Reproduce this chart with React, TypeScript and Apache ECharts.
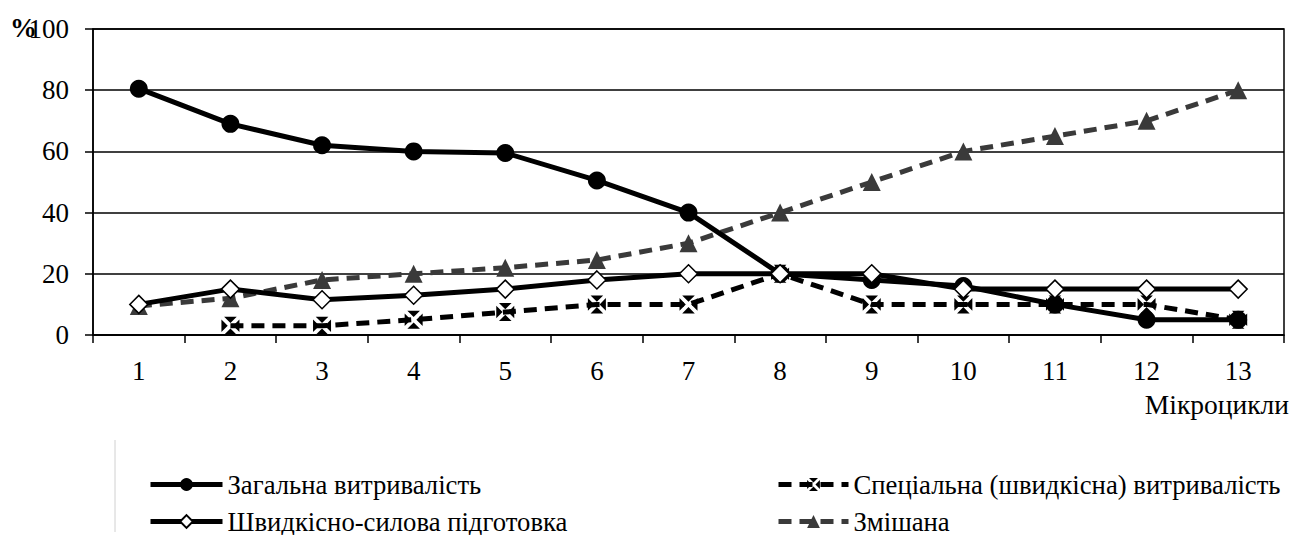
import React, { useEffect, useRef } from "react";
import * as echarts from "echarts";

const categories = ["1", "2", "3", "4", "5", "6", "7", "8", "9", "10", "11", "12", "13"];
const zagalna = [80.5, 69, 62, 60, 59.5, 50.5, 40, 20, 18, 16, 10, 5, 5];
const specialna: (number | null)[] = [null, 3, 3, 5, 7.5, 10, 10, 20, 10, 10, 10, 10, 5];
const shvydkisno = [10, 15, 11.5, 13, 15, 18, 20, 20, 20, 15, 15, 15, 15];
const zmishana = [9.5, 12, 18, 20, 22, 24.5, 30, 40, 50, 60, 65, 70, 80];
const yTicks = { min: 0, max: 100, interval: 20 };

const names = [
  "Загальна витривалість",
  "Спеціальна (швидкісна) витривалість",
  "Швидкісно-силова підготовка",
  "Змішана",
];

const xSymbol =
  "path://M3,0 L17,0 L10,7 Z M20,3 L20,17 L13,10 Z M17,20 L3,20 L10,13 Z M0,17 L0,3 L7,10 Z";

const FONT = "Liberation Serif, Times New Roman, serif";

export default function App() {
  const ref = useRef<HTMLDivElement>(null);
  useEffect(() => {
    if (!ref.current) return;
    document.body.style.margin = "0";
    const chart = echarts.init(ref.current, undefined, { renderer: "svg" });
    const legendBase = {
      padding: 0,
      itemHeight: 16,
      itemGap: 6,
      lineStyle: { width: 5 },
      textStyle: { fontFamily: FONT, fontSize: 26.7, color: "#000" },
    };
    chart.setOption({
      animation: false,
      backgroundColor: "#fff",
      textStyle: { fontFamily: FONT },
      grid: {
        left: 93,
        right: 11,
        top: 29,
        bottom: 200,
        show: true,
        borderColor: "#000",
        borderWidth: 1.5,
        backgroundColor: "transparent",
      },
      legend: [
        { ...legendBase, itemWidth: 72, data: [names[0]], left: 148, top: 471 },
        { ...legendBase, itemWidth: 72, data: [names[2]], left: 148, top: 508 },
        { ...legendBase, itemWidth: 70, data: [names[1]], left: 776, top: 471 },
        { ...legendBase, itemWidth: 70, data: [names[3]], left: 776, top: 508 },
      ],
      xAxis: {
        type: "category",
        data: categories,
        boundaryGap: true,
        axisLine: { lineStyle: { color: "#000", width: 1.5 } },
        axisTick: { show: true, length: 8, lineStyle: { color: "#000", width: 1.5 } },
        axisLabel: { color: "#000", fontSize: 27, fontFamily: FONT, margin: 22 },
      },
      yAxis: {
        type: "value",
        min: yTicks.min,
        max: yTicks.max,
        interval: yTicks.interval,
        axisLine: { show: true, lineStyle: { color: "#000", width: 1.5 } },
        axisTick: { show: true, length: 8, lineStyle: { color: "#000", width: 1.5 } },
        axisLabel: { color: "#000", fontSize: 27, fontFamily: FONT, margin: 24 },
        splitLine: { show: true, lineStyle: { color: "#000", width: 1.5 } },
      },
      graphic: [
        {
          type: "text",
          left: 10,
          top: 14,
          style: { text: "%", fontSize: 27, fontWeight: 900, fontFamily: FONT, fill: "#000" },
          z: 100,
        },
        {
          type: "text",
          right: 6,
          top: 390,
          style: { text: "Мікроцикли", fontSize: 27.5, fontFamily: FONT, fill: "#000" },
        },
        {
          type: "line",
          shape: { x1: 115, y1: 440, x2: 115, y2: 532 },
          style: { stroke: "#d0d0d0", lineWidth: 1 },
        },
      ],
      series: [
        {
          name: names[3],
          type: "line",
          data: zmishana,
          symbol: "triangle",
          symbolSize: 18,
          lineStyle: { color: "#3a3a3a", width: 5, type: [13, 8] },
          itemStyle: { color: "#3a3a3a" },
          z: 2,
        },
        {
          name: names[1],
          type: "line",
          data: specialna,
          connectNulls: false,
          symbol: xSymbol,
          symbolSize: 18,
          lineStyle: { color: "#000", width: 5, type: [13, 8] },
          itemStyle: { color: "#000" },
          z: 3,
        },
        {
          name: names[0],
          type: "line",
          data: zagalna,
          symbol: "circle",
          symbolSize: 18,
          lineStyle: { color: "#000", width: 5 },
          itemStyle: { color: "#000" },
          z: 4,
        },
        {
          name: names[2],
          type: "line",
          data: shvydkisno,
          symbol: "diamond",
          symbolSize: 18,
          lineStyle: { color: "#000", width: 5 },
          itemStyle: { color: "#fff", borderColor: "#000", borderWidth: 1.5 },
          z: 5,
        },
      ],
    });
    return () => chart.dispose();
  }, []);
  return <div ref={ref} style={{ width: 1295, height: 535 }} />;
}
